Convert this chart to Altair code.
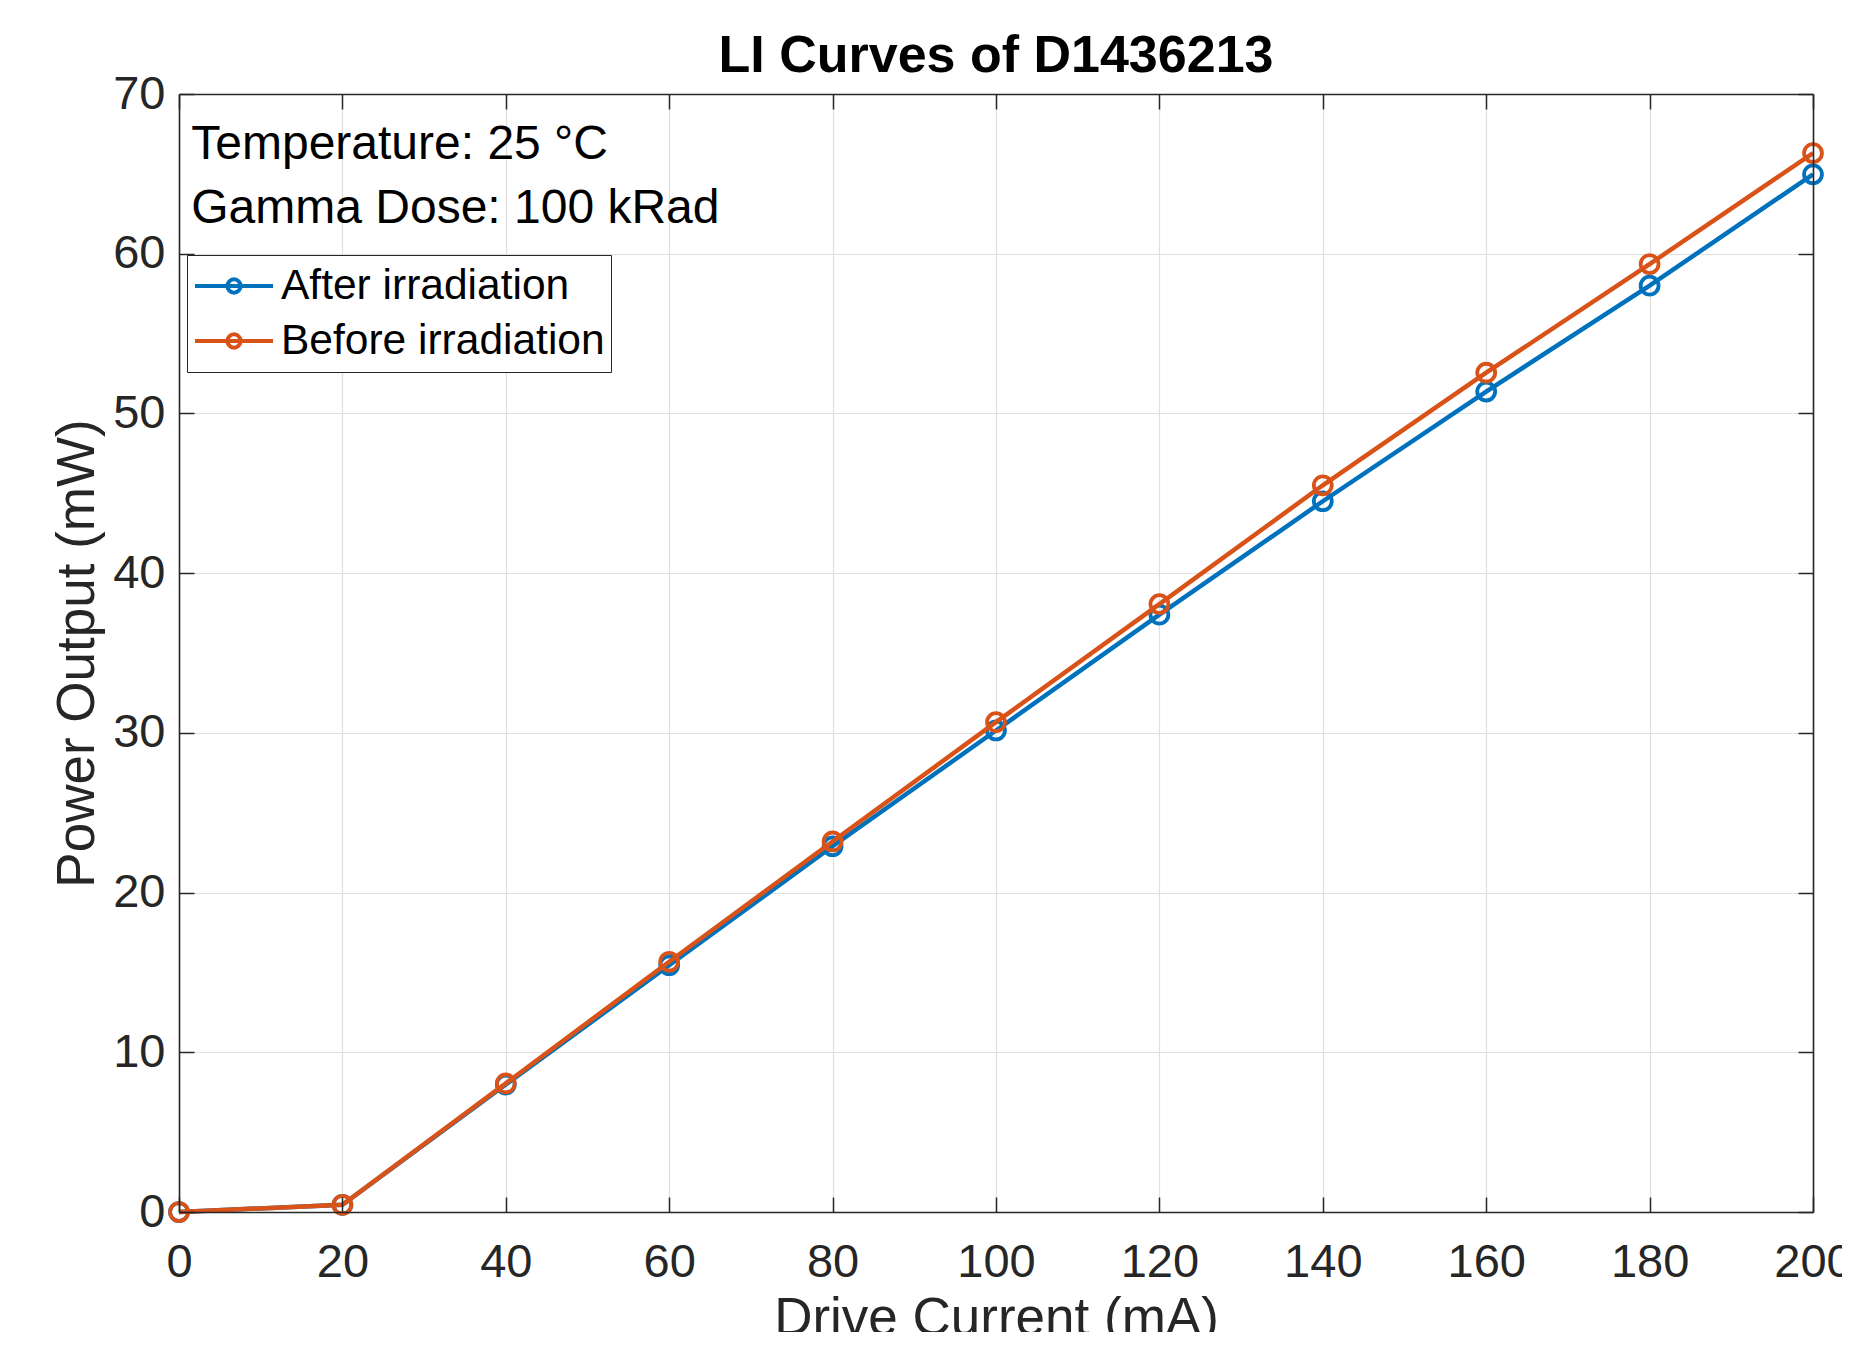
import altair as alt
import pandas as pd

# ---- data ----
current_mA = [0, 20, 40, 60, 80, 100, 120, 140, 160, 180, 200]
after_mW = [0.0, 0.45, 7.98, 15.45, 22.9, 30.15, 37.4, 44.5, 51.37, 58.0, 64.97]
before_mW = [0.0, 0.45, 8.05, 15.67, 23.2, 30.67, 38.06, 45.5, 52.55, 59.35, 66.3]
series_names = ["After irradiation", "Before irradiation"]
series_colors = ["#0072BD", "#D95319"]
x_ticks = [0, 20, 40, 60, 80, 100, 120, 140, 160, 180, 200]
y_ticks = [0, 10, 20, 30, 40, 50, 60, 70]
note_lines = ["Temperature: 25 °C", "Gamma Dose: 100 kRad"]
note_x = [1.5, 1.5]
note_y = [66.8, 62.8]

rows = []
for name, vals in zip(series_names, [after_mW, before_mW]):
    for c, p in zip(current_mA, vals):
        rows.append({"current": c, "power": p, "series": name})
df = pd.DataFrame(rows)
notes = pd.DataFrame({"text": note_lines, "nx": note_x, "ny": note_y})

W, H = 1634, 1118
FONT = "Liberation Sans"
AX = "#262626"

xs = alt.Scale(domain=[0, 200], nice=False, zero=False)
ys = alt.Scale(domain=[0, 70], nice=False, zero=False)
cs = alt.Scale(domain=series_names, range=series_colors)

main_x = alt.Axis(values=x_ticks, grid=True, gridColor="#e0e0e0", gridWidth=1.2,
                  ticks=False, domain=False, labelFont=FONT, labelFontSize=47,
                  labelColor=AX, labelPadding=27, labelFlush=False, labelOverlap=False,
                  title="Drive Current (mA)", titleFont=FONT, titleFontSize=53,
                  titleFontWeight="normal", titleColor=AX, titlePadding=7)
main_y = alt.Axis(values=y_ticks, grid=True, gridColor="#e0e0e0", gridWidth=1.2,
                  ticks=False, domain=False, labelFont=FONT, labelFontSize=47,
                  labelColor=AX, labelPadding=14, labelFlush=False, labelOverlap=False,
                  title="Power Output (mW)", titleFont=FONT, titleFontSize=53,
                  titleFontWeight="normal", titleColor=AX, titlePadding=8)


def tick_axis(orient, offset, vals):
    return alt.Axis(orient=orient, offset=offset, values=vals, labels=False, grid=False,
                    ticks=True, tickSize=15, tickColor=AX, tickWidth=1.5,
                    domain=True, domainColor=AX, domainWidth=1.6, title=None, zindex=1)


PATH = ("M-1,0L1,0M-0.17,0A0.17,0.17 0 1,0 0.17,0"
        "A0.17,0.17 0 1,0 -0.17,0")
legend = alt.Legend(title=None, orient="none", legendX=8, legendY=161,
                    direction="vertical", symbolType=PATH, symbolSize=6084,
                    symbolStrokeWidth=4, symbolFillColor="transparent",
                    clipHeight=50, rowPadding=5, padding=6, labelFont=FONT,
                    labelFontSize=42.5, labelColor="black", labelLimit=1000,
                    labelOffset=6, symbolOffset=0, strokeColor=AX, fillColor="white")


def line_layer(name, xa, ya):
    return alt.Chart(df).transform_filter(alt.datum.series == name).mark_line(
        strokeWidth=4.5).encode(
        x=alt.X("current:Q", scale=xs, axis=xa),
        y=alt.Y("power:Q", scale=ys, axis=ya),
        color=alt.Color("series:N", scale=cs, legend=legend))


def point_layer(name, xa, ya):
    return alt.Chart(df).transform_filter(alt.datum.series == name).mark_point(
        shape="circle", filled=False, size=320, strokeWidth=3.8, opacity=1).encode(
        x=alt.X("current:Q", scale=xs, axis=xa),
        y=alt.Y("power:Q", scale=ys, axis=ya),
        color=alt.Color("series:N", scale=cs, legend=legend))


l1 = line_layer(series_names[0], main_x, main_y)
p1 = point_layer(series_names[0], tick_axis("top", -H, x_ticks), tick_axis("right", -W, y_ticks))
l2 = line_layer(series_names[1], tick_axis("bottom", -H, x_ticks), tick_axis("left", -W, y_ticks))
p2 = point_layer(series_names[1], None, None)

txt = alt.Chart(notes).mark_text(align="left", baseline="middle", font=FONT,
                                 fontSize=48, color="black").encode(
    x=alt.X("nx:Q", scale=xs, axis=None),
    y=alt.Y("ny:Q", scale=ys, axis=None),
    text="text:N")

chart = alt.layer(l1, p1, l2, p2, txt).resolve_axis(
    x="independent", y="independent").properties(
    width=W, height=H,
    title=alt.TitleParams("LI Curves of D1436213", font=FONT, fontSize=52,
                          fontWeight="bold", color="black", anchor="middle",
                          frame="group", baseline="alphabetic", offset=21, dy=75),
    autosize=alt.AutoSizeParams(type="none"),
    padding={"left": 171, "top": 86, "right": 29, "bottom": 120},
).configure_view(stroke=None).configure(background="white")

chart.save("out.html", embed_options={"renderer": "svg", "actions": False})
